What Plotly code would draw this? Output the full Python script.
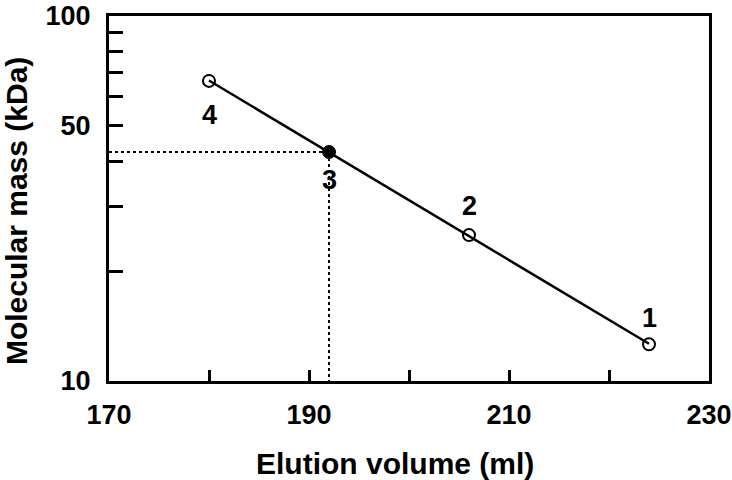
import numpy as np
import plotly.graph_objects as go

# standards (open circles) and the unknown (filled)
std_volume = [180, 206, 224]
std_mass = [66.4, 25.1, 12.6]
std_labels = ["4", "2", "1"]
std_label_shift = [-34, 29, 26]

unk_volume = [192]
unk_mass = [42.4]
unk_label = "3"

x_ticks = [170, 180, 190, 200, 210, 220, 230]
x_ticktext = ["170", "", "190", "", "210", "", "230"]
y_ticks = [10, 20, 30, 40, 50, 60, 70, 80, 90, 100]
y_ticktext = ["10", "", "", "", "50", "", "", "", "", "100"]

FONT = "Arial, Liberation Sans, Helvetica, sans-serif"

# calibration line: straight fit of log(mass) against volume
slope, icpt = np.polyfit(std_volume, np.log10(std_mass), 1)
fit_x = [min(std_volume), max(std_volume)]
fit_y = [10 ** (slope * v + icpt) for v in fit_x]

fig = go.Figure()

fig.add_trace(go.Scatter(x=[170, unk_volume[0]], y=[unk_mass[0], unk_mass[0]], mode="lines",
                         line=dict(color="black", width=2, dash="dot"), hoverinfo="skip"))
fig.add_trace(go.Scatter(x=[unk_volume[0], unk_volume[0]], y=[unk_mass[0], 10], mode="lines",
                         line=dict(color="black", width=2, dash="dot"), hoverinfo="skip"))
fig.add_trace(go.Scatter(x=fit_x, y=fit_y, mode="lines",
                         line=dict(color="black", width=2.5)))
fig.add_trace(go.Scatter(x=std_volume, y=std_mass, mode="markers",
                         marker=dict(symbol="circle-open", size=12, color="black",
                                     line=dict(width=2, color="black"))))
fig.add_trace(go.Scatter(x=unk_volume, y=unk_mass, mode="markers",
                         marker=dict(symbol="circle", size=13, color="black",
                                     line=dict(width=1, color="black"))))

for v, m, t, s in zip(std_volume, std_mass, std_labels, std_label_shift):
    fig.add_annotation(x=v, y=np.log10(m), text=t, showarrow=False, yshift=s,
                       font=dict(family=FONT, size=27, color="black", weight="bold"))
fig.add_annotation(x=unk_volume[0], y=np.log10(unk_mass[0]), text=unk_label, showarrow=False,
                   yshift=-28, font=dict(family=FONT, size=27, color="black", weight="bold"))

fig.add_annotation(x=0.477, y=-0.225, xref="paper", yref="paper", text="Elution volume (ml)",
                   showarrow=False, xanchor="center", yanchor="middle",
                   font=dict(family=FONT, size=30, color="black", weight="bold"))
fig.add_annotation(x=-0.153, y=0.466, xref="paper", yref="paper", text="Molecular mass (kDa)",
                   showarrow=False, textangle=-90, xanchor="center", yanchor="middle",
                   font=dict(family=FONT, size=30, color="black", weight="bold"))

fig.update_xaxes(range=[170, 230], tickvals=x_ticks, ticktext=x_ticktext,
                 ticks="inside", ticklen=11, tickwidth=2.5, tickcolor="black",
                 showline=True, linewidth=3, linecolor="black", mirror=True,
                 showgrid=False, zeroline=False, ticklabelstandoff=8,
                 automargin=False, ticklabeloverflow="allow",
                 tickfont=dict(family=FONT, size=27, color="black", weight="bold"))
fig.update_yaxes(type="log", range=[1, 2], tickvals=y_ticks, ticktext=y_ticktext,
                 ticks="inside", ticklen=14, tickwidth=2.5, tickcolor="black",
                 showline=True, linewidth=3, linecolor="black", mirror=True,
                 showgrid=False, zeroline=False, ticklabelstandoff=10,
                 automargin=False, ticklabeloverflow="allow",
                 tickfont=dict(family=FONT, size=27, color="black", weight="bold"))

fig.update_layout(width=732, height=480, showlegend=False,
                  margin=dict(l=109, r=23, t=16, b=99),
                  paper_bgcolor="white", plot_bgcolor="white")

# drop the browser's default body margin so the figure fills the window without scrollbars
fig.write_html("out.html", config={"displayModeBar": False},
               post_script="document.body.style.margin='0';document.body.style.overflow='hidden';")
